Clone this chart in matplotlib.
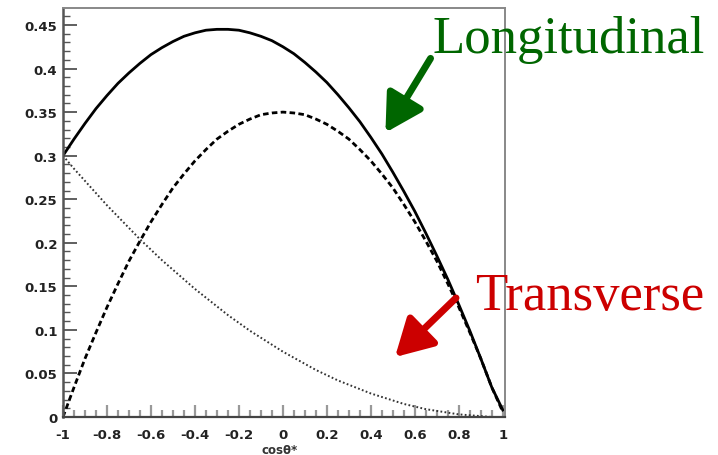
import matplotlib
matplotlib.use("Agg")
import matplotlib.pyplot as plt
from matplotlib.patches import FancyArrowPatch
from matplotlib.ticker import MultipleLocator, FixedLocator

# cos(theta*) sample points
cos_theta = [-1.00, -0.95, -0.90, -0.85, -0.80, -0.75, -0.70, -0.65, -0.60, -0.55,
             -0.50, -0.45, -0.40, -0.35, -0.30, -0.25, -0.20, -0.15, -0.10, -0.05,
             0.00, 0.05, 0.10, 0.15, 0.20, 0.25, 0.30, 0.35, 0.40, 0.45,
             0.50, 0.55, 0.60, 0.65, 0.70, 0.75, 0.80, 0.85, 0.90, 0.95, 1.00]

# total distribution (solid)
total = [0.300, 0.319, 0.337, 0.354, 0.369, 0.383, 0.395, 0.406, 0.416, 0.424,
         0.431, 0.437, 0.441, 0.444, 0.445, 0.445, 0.444, 0.441, 0.437, 0.432,
         0.425, 0.417, 0.407, 0.396, 0.384, 0.370, 0.355, 0.339, 0.321, 0.302,
         0.281, 0.259, 0.236, 0.211, 0.185, 0.158, 0.129, 0.099, 0.067, 0.034, 0.008]

# longitudinal component (dashed)
longitudinal = [0.000, 0.034, 0.067, 0.097, 0.126, 0.153, 0.179, 0.202, 0.224, 0.244,
                0.263, 0.279, 0.294, 0.307, 0.319, 0.328, 0.336, 0.342, 0.347, 0.349,
                0.350, 0.349, 0.347, 0.342, 0.336, 0.328, 0.319, 0.307, 0.294, 0.279,
                0.263, 0.244, 0.224, 0.202, 0.179, 0.153, 0.126, 0.097, 0.067, 0.034, 0.006]

# transverse component (dotted)
transverse = [0.300, 0.285, 0.271, 0.257, 0.243, 0.230, 0.217, 0.204, 0.192, 0.180,
              0.169, 0.158, 0.147, 0.137, 0.127, 0.117, 0.108, 0.099, 0.091, 0.083,
              0.075, 0.068, 0.061, 0.054, 0.048, 0.042, 0.037, 0.032, 0.027, 0.023,
              0.019, 0.015, 0.012, 0.009, 0.007, 0.005, 0.003, 0.002, 0.001, 0.000, 0.000]

x_ticks = [-1, -0.8, -0.6, -0.4, -0.2, 0, 0.2, 0.4, 0.6, 0.8, 1]
x_ticklabels = ["-1", "-0.8", "-0.6", "-0.4", "-0.2", "0", "0.2", "0.4", "0.6", "0.8", "1"]
y_ticks = [0, 0.05, 0.1, 0.15, 0.2, 0.25, 0.3, 0.35, 0.4, 0.45]
y_ticklabels = ["0", "0.05", "0.1", "0.15", "0.2", "0.25", "0.3", "0.35", "0.4", "0.45"]

W, H, DPI = 718, 456, 100
fig = plt.figure(figsize=(W / DPI, H / DPI), dpi=DPI)
ax = fig.add_axes([63 / W, 1 - 418 / H, (505 - 63) / W, (418 - 9) / H])

ax.plot(cos_theta, total, color="black", lw=2.0)
ax.plot(cos_theta, longitudinal, color="black", lw=2.0, linestyle=(0, (2.0, 1.2)))
ax.plot(cos_theta, transverse, color="#333333", lw=1.4, linestyle=(0, (0.9, 1.2)))

ax.set_xlim(-1, 1.01)
ax.set_ylim(0, 0.4695)

tick_font = dict(family="DejaVu Sans", size=9.5, weight="bold")
ax.xaxis.set_major_locator(FixedLocator(x_ticks))
ax.set_xticklabels(x_ticklabels, fontdict=tick_font)
ax.xaxis.set_minor_locator(MultipleLocator(0.05))
ax.yaxis.set_major_locator(FixedLocator(y_ticks))
ax.set_yticklabels(y_ticklabels, fontdict=tick_font)
ax.yaxis.set_minor_locator(MultipleLocator(0.01))

ax.tick_params(axis="x", which="major", direction="in", length=9, width=1.6,
               color="#999999", pad=8, labelcolor="#222222")
ax.tick_params(axis="x", which="minor", direction="in", length=5, width=1.6,
               color="#999999")
ax.tick_params(axis="y", which="major", direction="in", length=10, width=1.2,
               color="#444444", pad=4, labelcolor="#222222")
ax.tick_params(axis="y", which="minor", direction="in", length=5, width=1.0,
               color="#555555")

for side in ("top", "right"):
    ax.spines[side].set_color("#888888")
    ax.spines[side].set_linewidth(1.4)
ax.spines["left"].set_color("#555555")
ax.spines["left"].set_linewidth(1.8)
ax.spines["bottom"].set_color("#444444")
ax.spines["bottom"].set_linewidth(1.6)

fig.text(262 / W, 1 - 454 / H, "cos\u03b8*", ha="left", va="baseline",
         family="DejaVu Sans", fontsize=8.5, weight="bold", color="#333333")

# annotations
fig.text(432 / W, 1 - 53 / H, "Longitudinal", ha="left", va="baseline",
         family="Liberation Serif", fontsize=38, color="#006600")
fig.text(475 / W, 1 - 310 / H, "Transverse", ha="left", va="baseline",
         family="Liberation Serif", fontsize=38, color="#cc0000")

arrow_style = dict(arrowstyle="-|>,head_length=1.6,head_width=0.9", lw=5)
fig.patches.append(FancyArrowPatch(
    (432 / W, 1 - 57 / H), (384 / W, 1 - 136 / H), transform=fig.transFigure,
    color="#006600", mutation_scale=14, **arrow_style))
fig.patches.append(FancyArrowPatch(
    (458 / W, 1 - 297 / H), (393 / W, 1 - 360 / H), transform=fig.transFigure,
    color="#cc0000", mutation_scale=14, **arrow_style))

fig.savefig("out.png", dpi=DPI)
